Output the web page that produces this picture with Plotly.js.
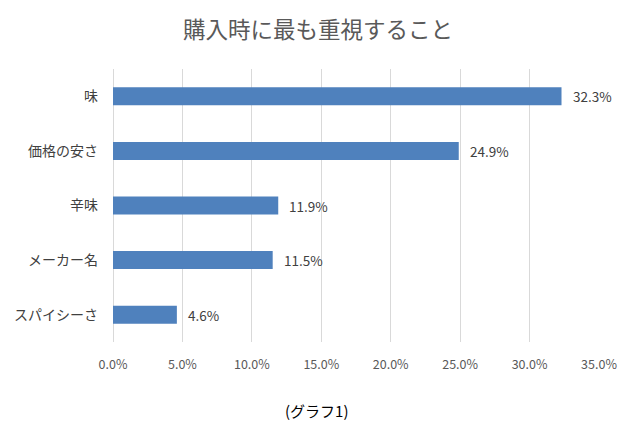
<!DOCTYPE html>
<html><head><meta charset="utf-8">
<script src="https://cdn.plot.ly/plotly-3.0.1.min.js"></script>
<style>html,body{margin:0;padding:0;background:#fff;}#chart{width:640px;height:434px;}</style>
</head><body><div id="chart"></div>
<script>
const categories = ["味", "価格の安さ", "辛味", "メーカー名", "スパイシーさ"];
const values = [32.3, 24.9, 11.9, 11.5, 4.6];
const tickValues = [0, 5, 10, 15, 20, 25, 30, 35];
const tickLabels = ["0.0%", "5.0%", "10.0%", "15.0%", "20.0%", "25.0%", "30.0%", "35.0%"];
const chartTitle = "購入時に最も重視すること";
const caption = "(グラフ1)";

const jp = '"Noto Sans CJK JP", "Noto Sans", sans-serif';

const trace = {
  type: 'bar', orientation: 'h',
  x: values, y: categories,
  marker: {color: '#4F81BD', line: {width: 0}},
  width: 0.33,
  hoverinfo: 'none'
};

const annotations = values.map((v, i) => ({
  x: v, y: categories[i], xref: 'x', yref: 'y',
  text: v.toFixed(1) + '%', showarrow: false,
  xanchor: 'left', xshift: 9,
  font: {family: jp, size: 13.5, color: '#404040'}
}));
annotations.push({
  x: (316 - 113) / 486, y: 0, xref: 'paper', yref: 'paper', yanchor: 'middle', xanchor: 'center',
  yshift: -68, text: caption, showarrow: false,
  font: {family: jp, size: 15, color: '#000'}
});

const layout = {
  width: 640, height: 434,
  margin: {l: 113, r: 41, t: 69, b: 92},
  paper_bgcolor: '#fff', plot_bgcolor: '#fff',
  title: {text: chartTitle, x: 0.497, xref: 'container', xanchor: 'center', y: 0.93, yanchor: 'middle',
          font: {family: jp, size: 22.5, color: '#595959'}},
  xaxis: {range: [0, 35], tickvals: tickValues, ticktext: tickLabels,
          showgrid: true, gridcolor: '#D9D9D9', gridwidth: 1,
          zeroline: true, zerolinecolor: '#D9D9D9', zerolinewidth: 1,
          showline: false, ticks: '', ticklen: 0, ticklabelstandoff: 13,
          tickfont: {family: jp, size: 12.5, color: '#595959'}, fixedrange: true},
  yaxis: {autorange: 'reversed', showgrid: false, zeroline: false, showline: false,
          ticks: '', ticklabelstandoff: 14,
          tickfont: {family: jp, size: 14, color: '#404040'}, fixedrange: true},
  showlegend: false,
  annotations: annotations
};

Plotly.newPlot('chart', [trace], layout, {displayModeBar: false, staticPlot: true});
</script></body></html>
